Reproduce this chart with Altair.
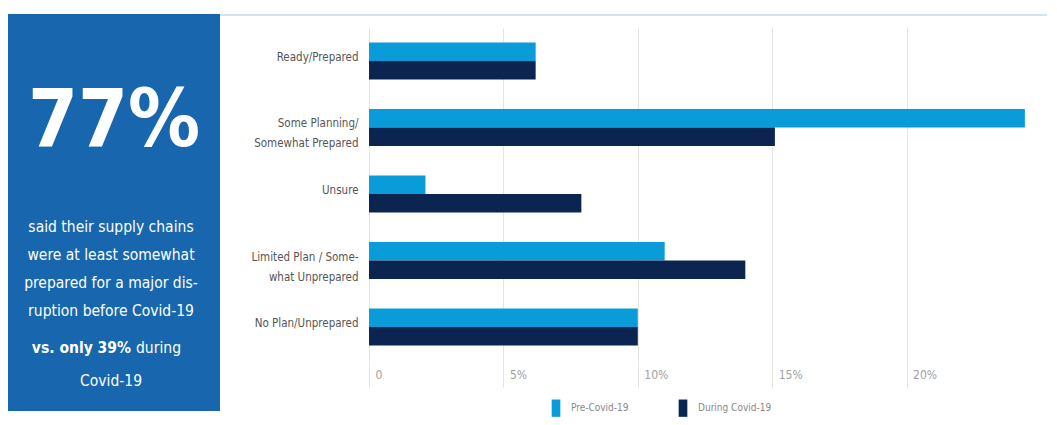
import altair as alt
import pandas as pd

categories = ["Ready/Prepared", "Some Planning/|Somewhat Prepared", "Unsure",
              "Limited Plan / Some-|what Unprepared", "No Plan/Unprepared"]
series = ["Pre-Covid-19", "During Covid-19"]
pre_values = [6.2, 24.4, 2.1, 11.0, 10.0]
during_values = [6.2, 15.1, 7.9, 14.0, 10.0]
x_ticks = [0, 5, 10, 15, 20]

big_number = "77%"
panel_lines = ["said their supply chains", "were at least somewhat",
               "prepared for a major dis-", "ruption before Covid-19"]
bold_part = "vs. only 39%"
regular_part = "during"
last_line = "Covid-19"

PRE_C = "#0a9cd9"
DUR_C = "#0b2550"
PANEL_C = "#1766ae"
FONT = "DejaVu Sans Condensed"

rows = []
for c, p, d in zip(categories, pre_values, during_values):
    rows.append({"cat": c, "series": series[0], "value": p})
    rows.append({"cat": c, "series": series[1], "value": d})
df = pd.DataFrame(rows)

one = pd.DataFrame({"a": [0]})

bars = alt.Chart(df).mark_bar().encode(
    y=alt.Y("cat:N", sort=categories, title=None,
            scale=alt.Scale(paddingInner=0.444, paddingOuter=0.218),
            axis=alt.Axis(labelExpr="split(datum.label, '|')", labelFont=FONT,
                          labelFontSize=11.5, labelColor="#555555", labelLineHeight=20,
                          labelPadding=11, ticks=False, domain=False, labelOffset=-3,
                          labelLimit=200)),
    yOffset=alt.YOffset("series:N", sort=series),
    x=alt.X("value:Q", title=None, scale=alt.Scale(domain=[0, 25]),
            axis=alt.Axis(values=x_ticks, grid=True, gridColor="#e4e4e4",
                          tickColor="#e4e4e4", tickSize=27, domain=False,
                          labelPadding=-18, labelAlign="left", labelOffset=6,
                          labelBaseline="top", labelFont=FONT, labelFontSize=12,
                          labelColor="#a0a0a0",
                          labelExpr="datum.value == 0 ? '0' : datum.value + '%'")),
    color=alt.Color("series:N", sort=series,
                    scale=alt.Scale(domain=series, range=[PRE_C, DUR_C]),
                    legend=alt.Legend(title=None, orient="none", legendX=178, legendY=371,
                                      direction="horizontal", labelFont=FONT,
                                      labelFontSize=10, labelColor="#888888",
                                      symbolType="M-0.5,-1H0.5V1H-0.5Z", symbolSize=300,
                                      symbolStrokeWidth=0, columnPadding=45,
                                      labelOffset=6)),
)

panel = alt.Chart(one).mark_rect(color=PANEL_C).encode(
    x=alt.value(-361), x2=alt.value(-149), y=alt.value(-14), y2=alt.value(383))

top_line = alt.Chart(one).mark_rule(color="#d3e2ef", strokeWidth=2).encode(
    x=alt.value(-149), x2=alt.value(678), y=alt.value(-13))

big = alt.Chart(pd.DataFrame({"t": [big_number]})).mark_text(
    font=FONT, fontSize=80, fontWeight="bold", color="white",
    align="center", baseline="alphabetic").encode(
    x=alt.value(-255), y=alt.value(118), text="t:N")

line_df = pd.DataFrame({"t": panel_lines, "i": list(range(len(panel_lines)))})
body = alt.Chart(line_df).mark_text(
    font=FONT, fontSize=15.5, color="white", align="center", baseline="middle").encode(
    x=alt.value(-258),
    y=alt.Y("i:O", scale=alt.Scale(domain=list(range(6)), range=[185, 353]), axis=None),
    text="t:N")

bold_t = alt.Chart(pd.DataFrame({"t": [bold_part]})).mark_text(
    font=FONT, fontSize=15.5, fontWeight="bold", color="white", align="right",
    baseline="middle").encode(x=alt.value(-238), y=alt.value(320), text="t:N")
reg_t = alt.Chart(pd.DataFrame({"t": [regular_part]})).mark_text(
    font=FONT, fontSize=15.5, color="white", align="left",
    baseline="middle").encode(x=alt.value(-233), y=alt.value(320), text="t:N")
last_t = alt.Chart(pd.DataFrame({"t": [last_line]})).mark_text(
    font=FONT, fontSize=15.5, color="white", align="center",
    baseline="middle").encode(x=alt.value(-258), y=alt.value(353), text="t:N")

chart = alt.layer(panel, top_line, bars, big, body, bold_t, reg_t, last_t).resolve_scale(
    y="independent"
).properties(
    width=672, height=332,
    padding={"left": 0, "top": 6, "right": 0, "bottom": 0},
    background="white",
).configure_view(stroke=None)

chart.save("out.html", embed_options={"renderer": "svg", "actions": False})
